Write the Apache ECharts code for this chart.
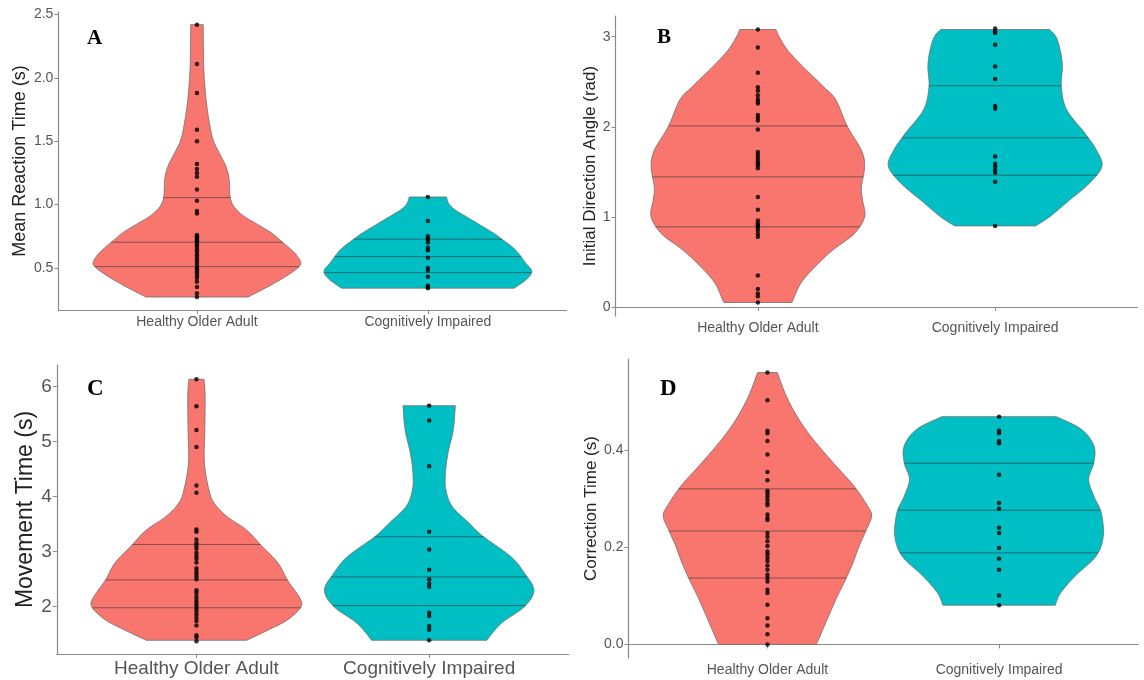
<!DOCTYPE html>
<html><head><meta charset="utf-8">
<script src="https://cdn.jsdelivr.net/npm/echarts@6/dist/echarts.min.js"></script>
<style>html,body{margin:0;padding:0;background:#fff}#c{width:1144px;height:680px}</style>
</head><body><div id="c"></div>
<script>
const categories = ['Healthy Older Adult', 'Cognitively Impaired'];
const panelLetters = ['A', 'B', 'C', 'D'];
const yTitles = ['Mean Reaction Time (s)', 'Initial Direction Angle (rad)', 'Movement Time (s)', 'Correction Time (s)'];

// y tick values per panel
const ticksA = [0.5, 1.0, 1.5, 2.0, 2.5];
const ticksB = [0, 1, 2, 3];
const ticksC = [2, 3, 4, 5, 6];
const ticksD = [0.0, 0.2, 0.4];

// Panel A: Mean Reaction Time (s)
const rtHealthy = [2.42, 2.11, 1.88, 1.59, 1.50, 1.32, 1.28, 1.25, 1.22, 1.12, 1.03, 0.95, 0.93,
  0.76, 0.75, 0.74, 0.73, 0.72, 0.71, 0.71, 0.69, 0.68, 0.66, 0.64, 0.62, 0.60, 0.58, 0.56, 0.54, 0.52,
  0.50, 0.49, 0.47, 0.46, 0.44, 0.42, 0.39, 0.35, 0.30, 0.27];
const rtImpaired = [1.06, 0.87, 0.75, 0.73, 0.72, 0.70, 0.66, 0.64, 0.58, 0.50, 0.48, 0.43, 0.36, 0.35, 0.34];
const rtQuartHealthy = [0.51, 0.703, 1.055];
const rtQuartImpaired = [0.463, 0.589, 0.727];
// density profiles: [value, relative half-width]
const rtDensHealthy = [[0.27,0.49],[0.35,0.68],[0.43,0.85],[0.50,0.97],[0.54,1.0],[0.60,0.96],[0.65,0.90],[0.72,0.80],[0.78,0.71],[0.85,0.57],[0.91,0.45],[0.98,0.36],[1.06,0.32],[1.20,0.31],[1.30,0.28],[1.40,0.22],[1.50,0.16],[1.60,0.13],[1.75,0.10],[1.90,0.08],[2.10,0.065],[2.42,0.06]];
const rtDensImpaired = [[0.34,0.83],[0.41,0.95],[0.474,1.0],[0.54,0.94],[0.645,0.84],[0.729,0.71],[0.776,0.63],[0.88,0.42],[0.96,0.26],[1.01,0.20],[1.06,0.18]];

// Panel B: Initial Direction Angle (rad)
const angHealthy = [3.08, 2.88, 2.60, 2.44, 2.40, 2.35, 2.31, 2.28, 2.26, 2.13, 2.10, 2.07, 1.97,
  1.72, 1.69, 1.66, 1.63, 1.60, 1.59, 1.57, 1.54, 1.22, 1.08, 0.96, 0.93, 0.91, 0.90, 0.88, 0.85, 0.81, 0.78,
  0.35, 0.20, 0.15, 0.12, 0.05];
const angImpaired = [3.09, 3.06, 3.04, 2.91, 2.67, 2.53, 2.23, 2.20, 1.67, 1.59, 1.56, 1.52, 1.49, 1.39, 0.90];
const angQuartHealthy = [0.89, 1.444, 2.01];
const angQuartImpaired = [1.463, 1.878, 2.456];
const angDensHealthy = [[0.05,0.32],[0.26,0.40],[0.44,0.53],[0.63,0.70],[0.81,0.90],[1.0,1.0],[1.19,0.98],[1.33,0.97],[1.56,1.0],[1.74,0.97],[2.0,0.84],[2.30,0.73],[2.44,0.62],[2.67,0.42],[2.85,0.28],[3.0,0.20],[3.08,0.17]];
const angDensImpaired = [[0.90,0.38],[1.0,0.51],[1.19,0.70],[1.37,0.88],[1.56,1.0],[1.74,0.95],[1.93,0.84],[2.19,0.67],[2.44,0.62],[2.67,0.63],[2.85,0.61],[3.0,0.57],[3.08,0.51]];

// Panel C: Movement Time (s)
const mtHealthy = [6.13, 5.64, 5.21, 4.90, 4.20, 4.07, 3.40, 3.36, 3.22, 3.15, 3.10, 3.05, 2.98, 2.92, 2.87, 2.80,
  2.70, 2.65, 2.60, 2.55, 2.50, 2.30, 2.25, 2.18, 2.12, 2.07, 2.02, 1.97, 1.92, 1.86, 1.80, 1.74, 1.66, 1.48, 1.44, 1.37];
const mtImpaired = [5.65, 5.38, 4.55, 3.36, 3.04, 2.67, 2.50, 2.42, 2.36, 1.89, 1.83, 1.65, 1.58, 1.39];
const mtQuartHealthy = [1.98, 2.485, 3.13];
const mtQuartImpaired = [2.02, 2.54, 3.27];
const mtDensHealthy = [[1.39,0.48],[1.58,0.69],[1.76,0.87],[2.0,1.0],[2.18,0.98],[2.48,0.87],[2.79,0.78],[3.09,0.63],[3.39,0.48],[3.64,0.29],[3.88,0.17],[4.12,0.12],[4.61,0.076],[5.21,0.08],[5.82,0.083],[6.13,0.073]];
const mtDensImpaired = [[1.39,0.55],[1.70,0.69],[2.0,0.91],[2.30,1.0],[2.61,0.91],[2.91,0.78],[3.27,0.52],[3.52,0.38],[3.82,0.22],[4.12,0.16],[4.42,0.155],[4.79,0.18],[5.21,0.23],[5.65,0.25]];

// Panel D: Correction Time (s)
const ctHealthy = [0.561, 0.504, 0.441, 0.436, 0.420, 0.392, 0.356, 0.339, 0.317, 0.312, 0.306, 0.299, 0.292, 0.287,
  0.268, 0.261, 0.257, 0.230, 0.222, 0.213, 0.203, 0.192, 0.186, 0.179, 0.172, 0.163, 0.154, 0.144, 0.137, 0.130,
  0.113, 0.106, 0.082, 0.054, 0.039, 0.021, 0.0];
const ctImpaired = [0.470, 0.441, 0.436, 0.420, 0.415, 0.350, 0.292, 0.280, 0.241, 0.230, 0.199, 0.177, 0.154, 0.101, 0.081];
const ctQuartHealthy = [0.137, 0.234, 0.321];
const ctQuartImpaired = [0.189, 0.277, 0.374];
const ctDensHealthy = [[0.0,0.47],[0.03,0.53],[0.065,0.60],[0.099,0.67],[0.134,0.75],[0.168,0.82],[0.203,0.88],[0.237,0.95],[0.265,1.0],[0.286,0.96],[0.327,0.83],[0.375,0.63],[0.423,0.44],[0.465,0.30],[0.513,0.18],[0.561,0.095]];
const ctDensImpaired = [[0.081,0.54],[0.106,0.59],[0.141,0.73],[0.182,0.93],[0.223,1.0],[0.272,0.98],[0.306,0.91],[0.341,0.86],[0.375,0.91],[0.41,0.91],[0.444,0.79],[0.47,0.55]];

const fillColors = ['#F8766D', '#00BFC4'];
const HALF = 0.45;

const panels = [
  {grid:{left:58.4, top:12, width:508, height:298}, yMin:0.168, yMax:2.52, ticks:ticksA, dec:1,
   pts:[rtHealthy, rtImpaired], q:[rtQuartHealthy, rtQuartImpaired], dens:[rtDensHealthy, rtDensImpaired],
   tickFont:14, xFont:14, titleFont:18, nameGap:29, letter:{left:82, top:23, size:21}},
  {grid:{left:615.5, top:16, width:522, height:300}, yMin:-0.10, yMax:3.23, ticks:ticksB, dec:0,
   pts:[angHealthy, angImpaired], q:[angQuartHealthy, angQuartImpaired], dens:[angDensHealthy, angDensImpaired],
   tickFont:14, xFont:14, titleFont:17, nameGap:17, letter:{left:652, top:22, size:21}},
  {grid:{left:56.8, top:365, width:512, height:289}, yMin:1.14, yMax:6.39, ticks:ticksC, dec:0,
   pts:[mtHealthy, mtImpaired], q:[mtQuartHealthy, mtQuartImpaired], dens:[mtDensHealthy, mtDensImpaired],
   tickFont:19, xFont:19, titleFont:23, nameGap:20, letter:{left:82, top:373, size:23}},
  {grid:{left:628.5, top:359, width:509.5, height:299}, yMin:-0.028, yMax:0.589, ticks:ticksD, dec:1,
   pts:[ctHealthy, ctImpaired], q:[ctQuartHealthy, ctQuartImpaired], dens:[ctDensHealthy, ctDensImpaired],
   tickFont:14, xFont:14, titleFont:17, nameGap:27, letter:{left:655, top:373, size:23}}
];

function catmull(pts) {
  const out = [];
  const n = pts.length;
  for (let i = 0; i < n - 1; i++) {
    const p0 = pts[Math.max(i - 1, 0)], p1 = pts[i], p2 = pts[i + 1], p3 = pts[Math.min(i + 2, n - 1)];
    const steps = 10;
    for (let s = 0; s < steps; s++) {
      const t = s / steps, t2 = t * t, t3 = t2 * t;
      const f = (a, b, c, d) => 0.5 * ((2 * b) + (-a + c) * t + (2 * a - 5 * b + 4 * c - d) * t2 + (-a + 3 * b - 3 * c + d) * t3);
      out.push([f(p0[0], p1[0], p2[0], p3[0]), f(p0[1], p1[1], p2[1], p3[1])]);
    }
  }
  out.push(pts[n - 1]);
  return out;
}
function xAtY(line, y) {
  for (let i = 0; i < line.length - 1; i++) {
    const a = line[i], b = line[i + 1];
    if ((a[1] - y) * (b[1] - y) <= 0 && a[1] !== b[1]) {
      const t = (y - a[1]) / (b[1] - a[1]);
      return a[0] + t * (b[0] - a[0]);
    }
  }
  return line[0][0];
}

const grid = [], xAxis = [], yAxis = [], series = [], title = [];
const axisGray = '#8a8a8a';
panels.forEach((p, i) => {
  grid.push(p.grid);
  title.push({text: panelLetters[i], left: p.letter.left, top: p.letter.top,
    textStyle: {fontFamily: 'Liberation Serif', fontWeight: 'bold', fontSize: p.letter.size, color: '#000'}});
  xAxis.push({type: 'value', gridIndex: i, min: 0.4, max: 2.6,
    splitLine: {show: false},
    axisLine: {show: true, lineStyle: {color: axisGray, width: 1.2}},
    axisTick: {show: true, length: 4, customValues: [1, 2], lineStyle: {color: axisGray}},
    axisLabel: {customValues: [1, 2], margin: 5, fontSize: p.xFont, color: '#555', fontFamily: 'Liberation Sans',
      formatter: v => categories[Math.round(v) - 1] || ''}});
  yAxis.push({type: 'value', gridIndex: i, min: p.yMin, max: p.yMax,
    name: yTitles[i], nameLocation: 'middle', nameGap: p.nameGap, nameRotate: 90,
    nameTextStyle: {fontSize: p.titleFont, color: '#222', fontFamily: 'Liberation Sans'},
    splitLine: {show: false},
    axisLine: {show: true, lineStyle: {color: axisGray, width: 1.2}},
    axisTick: {show: true, length: 4, customValues: p.ticks, lineStyle: {color: axisGray}},
    axisLabel: {customValues: p.ticks, margin: 5, fontSize: p.tickFont, color: '#555', fontFamily: 'Liberation Sans',
      formatter: v => Number(v).toFixed(p.dec)}});
  series.push({type: 'custom', xAxisIndex: i, yAxisIndex: i, z: 1,
    data: [[1], [2]],
    renderItem: function (params, api) {
      const k = params.dataIndex;
      const cx = api.value(0);
      const prof = p.dens[k];
      const left = catmull(prof.map(d => api.coord([cx - d[1] * HALF, d[0]])));
      const right = catmull(prof.map(d => api.coord([cx + d[1] * HALF, d[0]])));
      const poly = left.concat(right.slice().reverse());
      const children = [{type: 'polygon', shape: {points: poly},
        style: {fill: fillColors[k], stroke: '#6e6e6e', lineWidth: 0.8}}];
      p.q[k].forEach(qv => {
        const y = api.coord([cx, qv])[1];
        children.push({type: 'line', shape: {x1: xAtY(left, y), y1: y, x2: xAtY(right, y), y2: y},
          style: {stroke: 'rgba(55,55,55,0.6)', lineWidth: 1}});
      });
      return {type: 'group', children: children};
    }});
  p.pts.forEach((arr, k) => {
    series.push({type: 'scatter', xAxisIndex: i, yAxisIndex: i, z: 3, symbolSize: 4.5,
      itemStyle: {color: '#000'}, silent: true,
      data: arr.map(v => [k + 1, v])});
  });
});

const chart = echarts.init(document.getElementById('c'), null, {renderer: 'canvas'});
chart.setOption({animation: false, backgroundColor: '#fff', title, grid, xAxis, yAxis, series});
</script></body></html>
